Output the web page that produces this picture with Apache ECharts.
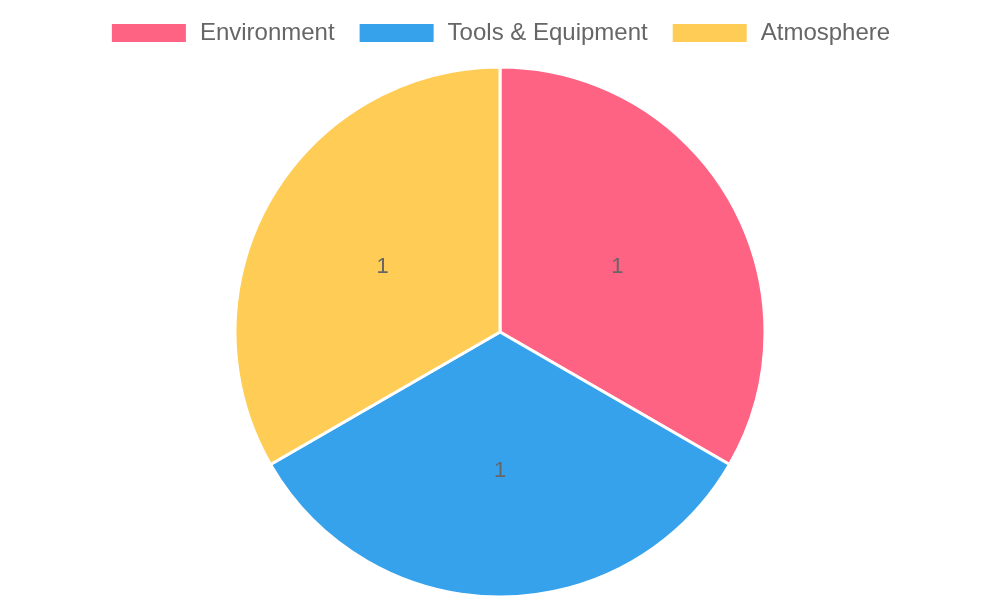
<!DOCTYPE html>
<html>
<head>
<meta charset="utf-8">
<script src="https://cdn.jsdelivr.net/npm/echarts@6/dist/echarts.min.js"></script>
<style>
  html, body { margin: 0; padding: 0; background: #fff; }
  #chart { width: 1000px; height: 600px; }
</style>
</head>
<body>
<div id="chart"></div>
<script>
const categories = ["Environment", "Tools & Equipment", "Atmosphere"];
const values = [1, 1, 1];
const colors = ["#ff6384", "#36a2eb", "#ffcd56"];

const chart = echarts.init(document.getElementById("chart"));

const option = {
    animation: false,
    color: colors,
    legend: {
        top: 16,
        left: "center",
        itemWidth: 76,
        itemHeight: 20,
        itemGap: 23,
        icon: "rect",
        textStyle: {
            color: "#666",
            fontSize: 24,
            fontFamily: "Liberation Sans, Arial, sans-serif",
            padding: [0, 0, 0, 8]
        },
        data: categories
    },
    series: [
        {
            type: "pie",
            center: [500, 332],
            radius: 265,
            startAngle: 90,
            clockwise: true,
            itemStyle: {
                borderColor: "#fff",
                borderWidth: 3
            },
            label: {
                show: true,
                position: "inside",
                formatter: "{c}",
                color: "#666",
                fontSize: 22,
                offset: [0, 3],
                fontFamily: "Liberation Sans, Arial, sans-serif"
            },
            labelLine: { show: false },
            emphasis: { scale: false },
            data: categories.map((name, i) => ({ name: name, value: values[i] }))
        }
    ]
};

chart.setOption(option);
window.addEventListener("resize", () => chart.resize());
</script>
</body>
</html>
